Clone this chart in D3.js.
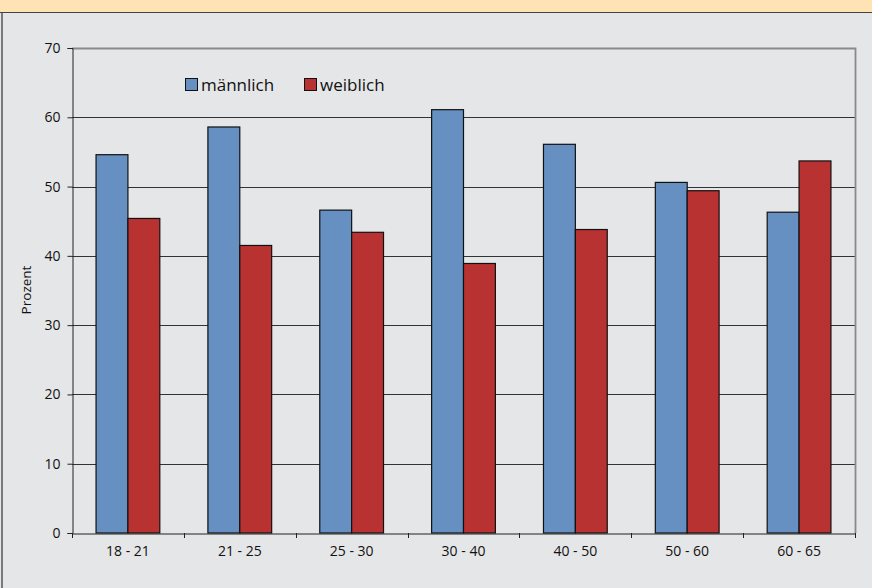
<!DOCTYPE html>
<html><head><meta charset="utf-8">
<script src="https://cdn.jsdelivr.net/npm/d3@7"></script>
<style>body{margin:0;background:#fff}svg{display:block}</style>
</head><body><svg id="c" width="872" height="588"></svg>
<script>
const categories = ["18 - 21","21 - 25","25 - 30","30 - 40","40 - 50","50 - 60","60 - 65"];
const maennlich = [54.6, 58.6, 46.6, 61.1, 56.1, 50.6, 46.3];
const weiblich  = [45.4, 41.5, 43.4, 38.9, 43.8, 49.4, 53.7];
const seriesNames = ["männlich","weiblich"];
const yTicks = [0,10,20,30,40,50,60,70];

const svg = d3.select("#c");
const W=872,H=588;
const font = "'Open Sans', sans-serif";
svg.append("rect").attr("x",0).attr("y",0).attr("width",W).attr("height",H).attr("fill","#e5e6e8");
svg.append("rect").attr("x",0).attr("y",0).attr("width",W).attr("height",12).attr("fill","#ffe3b4");
svg.append("line").attr("x1",0).attr("x2",W).attr("y1",12.5).attr("y2",12.5).attr("stroke","#444").attr("stroke-width",1.2);
svg.append("line").attr("x1",2).attr("x2",2).attr("y1",13).attr("y2",H).attr("stroke","#7a7a7a").attr("stroke-width",2);

const m = {l:72,r:855,t:48,b:533};
const x = d3.scaleBand().domain(categories).range([m.l,m.r]).paddingInner(0.43).paddingOuter(0.215);
const xs = d3.scaleBand().domain(seriesNames).range([0,x.bandwidth()]);
const y = d3.scaleLinear().domain([0,70]).range([m.b,m.t]);
const colors = {"männlich":"#6690c1","weiblich":"#b83231"};

// gridlines
svg.append("g").selectAll("line").data(yTicks.filter(d=>d>0&&d<70)).join("line")
  .attr("x1",m.l).attr("x2",m.r).attr("y1",d=>Math.round(y(d))+0.5).attr("y2",d=>Math.round(y(d))+0.5)
  .attr("stroke","#333").attr("stroke-width",1);
// plot border top/right
svg.append("path").attr("d",`M${m.l},${m.t+0.5}H${m.r+0.5}V${m.b}`).attr("fill","none").attr("stroke","#8a8a8a").attr("stroke-width",1.8);

const data = categories.map((c,i)=>({c, v:{"männlich":maennlich[i],"weiblich":weiblich[i]}}));
const g = svg.append("g");
data.forEach(d=>{
  seriesNames.forEach(s=>{
    g.append("rect").attr("x",x(d.c)+xs(s)).attr("y",y(d.v[s])).attr("width",xs.bandwidth()).attr("height",y(0)-y(d.v[s]))
      .attr("fill",colors[s]).attr("stroke","#111").attr("stroke-width",1.2);
  });
});

// axes
const yAxis = d3.axisLeft(y).tickValues(yTicks).tickSize(5).tickPadding(7).tickFormat(d3.format("d"));
const ya = svg.append("g").attr("transform",`translate(${m.l+0.5},0)`).call(yAxis);
ya.select(".domain").attr("stroke","#222");
ya.selectAll(".tick line").attr("stroke","#222");
ya.selectAll("text").attr("font-family",font).attr("font-size",14).attr("fill","#111");

const xAxis = d3.axisBottom(x).tickSize(0).tickPadding(13);
const xa = svg.append("g").attr("transform",`translate(0,${m.b+0.5})`).call(xAxis);
xa.select(".domain").attr("stroke","#222");
xa.selectAll("text").attr("font-family",font).attr("font-size",14).attr("fill","#111");
// category separator ticks
const sepPos = d3.range(categories.length+1).map(i=>m.l + i*(m.r-m.l)/categories.length);
svg.append("g").selectAll("line").data(sepPos).join("line")
  .attr("x1",d=>Math.round(d)+0.5).attr("x2",d=>Math.round(d)+0.5).attr("y1",m.b).attr("y2",m.b+5)
  .attr("stroke","#222");

svg.append("text").attr("transform","translate(31,290) rotate(-90)").attr("text-anchor","middle")
  .attr("font-family",font).attr("font-size",13.5).attr("fill","#111").text("Prozent");

// legend
const lg = svg.append("g");
const lx = [185,304];
seriesNames.forEach((s,i)=>{
  lg.append("rect").attr("x",lx[i]+0.5).attr("y",78.5).attr("width",12).attr("height",12).attr("fill",colors[s]).attr("stroke","#111");
  lg.append("text").attr("x",lx[i]+16).attr("y",90.5).attr("font-family",font).attr("font-size",17).attr("fill","#111").text(s);
});
</script></body></html>
